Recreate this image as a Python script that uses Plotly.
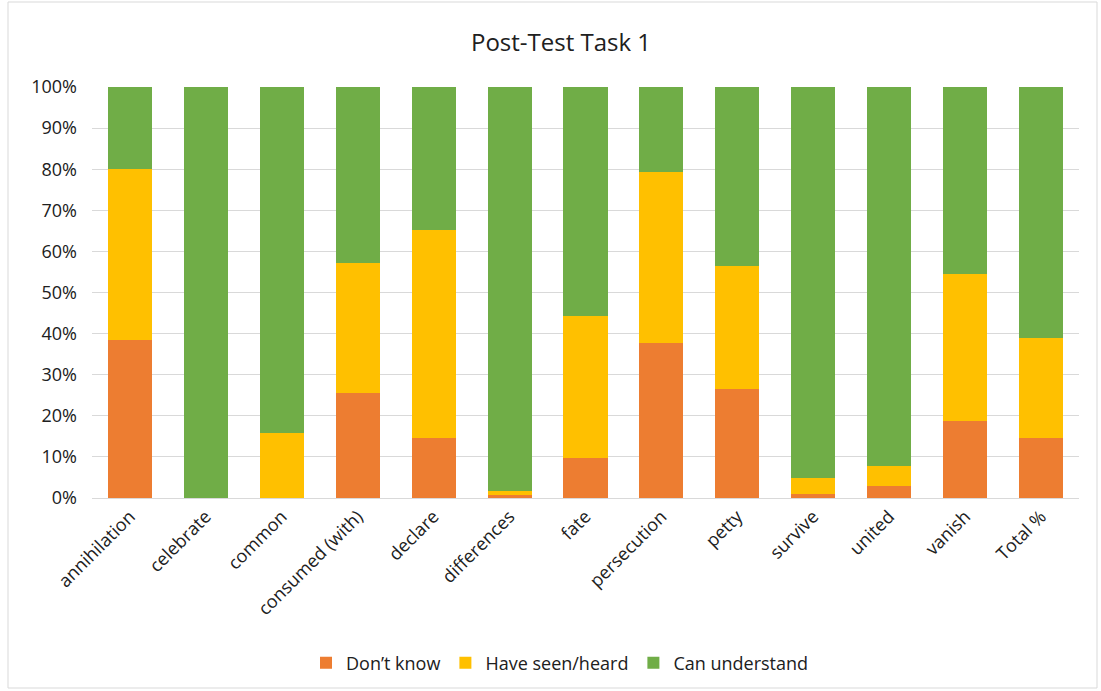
import plotly.graph_objects as go

words = ["annihilation", "celebrate", "common", "consumed (with)", "declare",
         "differences", "fate", "persecution", "petty", "survive", "united",
         "vanish", "Total %"]

dont_know = [38.5, 0, 0, 25.5, 14.6, 0.8, 9.7, 37.6, 26.6, 0.9, 2.8, 18.7, 14.6]
seen_heard = [41.6, 0, 15.7, 31.8, 50.6, 1.0, 34.7, 41.6, 29.8, 3.9, 5.0, 35.7, 24.3]
can_understand = [19.9, 100, 84.3, 42.7, 34.8, 98.2, 55.6, 20.8, 43.6, 95.2, 92.2, 45.6, 61.1]

series = [
    ("Don\u2019t know", dont_know, "#ED7D31"),
    ("Have seen/heard", seen_heard, "#FFC000"),
    ("Can understand", can_understand, "#70AD47"),
]

FONT = "Open Sans, Noto Sans, sans-serif"

fig = go.Figure()
for name, vals, color in series:
    fig.add_trace(go.Bar(
        x=words, y=vals, name=name,
        marker=dict(color=color, line=dict(width=0)),
    ))

W, H = 1101, 691
L, R, T, B = 92, 22, 87, 193
pw, ph = W - L - R, H - T - B

def px_x(p):
    return (p - L) / pw

def px_y(p):
    return (H - B - p) / ph

fig.update_layout(
    width=W, height=H,
    barmode="stack", bargap=0.42,
    paper_bgcolor="white", plot_bgcolor="white",
    margin=dict(l=L, r=R, t=T, b=B, autoexpand=False),
    font=dict(family=FONT, size=18, color="#202020"),
    title=dict(text="Post-Test Task 1", x=561 / W, xref="container",
               xanchor="center", y=1 - 43 / H, yanchor="middle",
               font=dict(family=FONT, size=24, color="#202020")),
    xaxis=dict(tickangle=-45, showgrid=False, showline=True,
               linecolor="#d9d9d9", linewidth=1, ticks="",
               tickfont=dict(size=18, color="#202020")),
    yaxis=dict(range=[0, 100], dtick=10, ticksuffix="%", showgrid=True,
               gridcolor="#d9d9d9", gridwidth=1, zeroline=False, ticks="",
               ticklabelstandoff=14,
               tickfont=dict(size=18, color="#202020")),
    legend=dict(orientation="h", x=px_x(560), xanchor="center",
                y=px_y(663), yanchor="middle",
                font=dict(size=18, color="#202020"), traceorder="normal"),
    shapes=[dict(type="rect", xref="paper", yref="paper",
                 x0=px_x(8), x1=px_x(1097), y0=px_y(688), y1=px_y(2),
                 line=dict(color="#d9d9d9", width=1), layer="below")],
)

fig.write_html("out.html")
